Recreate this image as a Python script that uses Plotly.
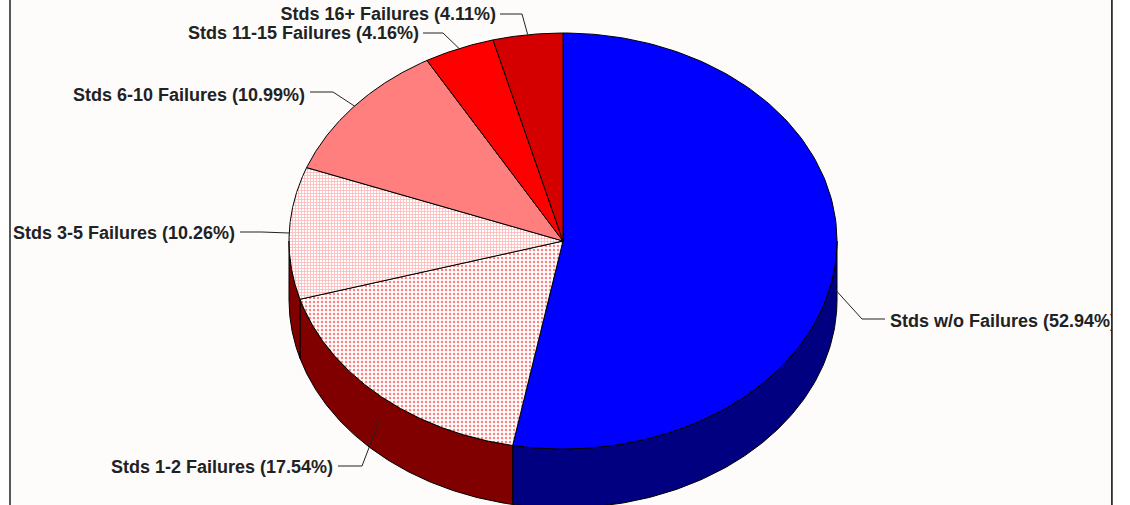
import numpy as np
import plotly.graph_objects as go

# Data
names = ["Stds w/o Failures", "Stds 1-2 Failures", "Stds 3-5 Failures",
         "Stds 6-10 Failures", "Stds 11-15 Failures", "Stds 16+ Failures"]
shares = [52.94, 17.54, 10.26, 10.99, 4.16, 4.11]

# Styling
top_colors = ["#0000ff", "#ffffff", "#ffffff", "#ffffff", "#ff0000", "#d40000"]
side_colors = ["#000080", "#800000", "#800000", "#800000", "#800000", "#800000"]
patterns = [None,
            dict(shape=".", size=4, solidity=0.3, fgcolor="#ff0000", bgcolor="#ffffff"),
            dict(shape="+", size=3, solidity=0.5, fgcolor="#ff7878", bgcolor="#ffffff"),
            dict(shape=".", size=2, solidity=0.95, fgcolor="#ff0000", bgcolor="#ffffff"),
            None, None]

# Layout geometry in pixels
CX, CY, RX, RY, DEPTH = 563, 241, 274, 208, 59
label_anchor = [(890, 322, "middle right"), (333, 468, "middle left"), (235, 234, "middle left"),
                (305, 96, "middle left"), (419, 34, "middle left"), (496, 15, "middle left")]
leader_elbow = [(862, 319, 885), (362, 466, 338), (262, 232, 240),
                (333, 92, 310), (443, 33, 423), (522, 14, 500)]
leader_start_offset = [30, 58 * 0.45, 0, 0, 0, 0]


def px(deg, dy=0):
    a = np.radians(deg)
    return CX + RX * np.sin(a), CY - RY * np.cos(a) + dy


edges = np.concatenate([[0], np.cumsum(shares)]) * 360 / sum(shares)
fig = go.Figure()

# side walls (only the front half of the rim is visible)
for i in range(len(names)):
    a0, a1 = max(edges[i], 90), min(edges[i + 1], 270)
    if a1 <= a0:
        continue
    t = np.linspace(a0, a1, 120)
    xt, yt = px(t)
    xb, yb = px(t[::-1], DEPTH)
    fig.add_trace(go.Scatter(x=np.r_[xt, xb, xt[0]], y=np.r_[yt, yb, yt[0]], mode="lines",
                             fill="toself", fillcolor=side_colors[i],
                             line=dict(color="#000000", width=1), hoverinfo="skip"))

# top surface
for i in range(len(names)):
    t = np.linspace(edges[i], edges[i + 1], 160)
    xt, yt = px(t)
    tr = dict(x=np.r_[CX, xt, CX], y=np.r_[CY, yt, CY], mode="lines", fill="toself",
              fillcolor=top_colors[i], line=dict(color="#000000", width=1), hoverinfo="skip")
    if patterns[i]:
        tr["fillpattern"] = patterns[i]
    fig.add_trace(go.Scatter(**tr))

# leaders
for i in range(len(names)):
    mid = (edges[i] + edges[i + 1]) / 2
    sx, sy = px(mid, leader_start_offset[i])
    ex, ey, end = leader_elbow[i]
    fig.add_trace(go.Scatter(x=[sx, ex, end], y=[sy, ey, ey], mode="lines",
                             line=dict(color="#222222", width=1), hoverinfo="skip"))

# labels
fig.add_trace(go.Scatter(
    x=[a[0] for a in label_anchor], y=[a[1] for a in label_anchor],
    text=[f"{n} ({s:.2f}%)" for n, s in zip(names, shares)],
    textposition=[a[2] for a in label_anchor], mode="text",
    textfont=dict(family="Liberation Sans", size=18, weight="bold", color="#222222"),
    hoverinfo="skip"))

shapes = [
    dict(type="rect", layer="below", x0=10, x1=1112, y0=-5, y1=510, fillcolor="#fdfcfb",
         line=dict(color="#222222", width=1.5)),
    dict(type="rect", layer="above", x0=1112, x1=1130, y0=-5, y1=510, fillcolor="#ffffff",
         line=dict(width=0)),
    dict(type="line", layer="above", x0=1112, x1=1112, y0=-5, y1=510,
         line=dict(color="#222222", width=1.5)),
]

fig.update_layout(
    width=1130, height=505, autosize=False, showlegend=False,
    margin=dict(l=0, r=0, t=0, b=0), paper_bgcolor="#ffffff", plot_bgcolor="rgba(0,0,0,0)",
    xaxis=dict(range=[0, 1130], visible=False, fixedrange=True),
    yaxis=dict(range=[505, 0], visible=False, fixedrange=True),
    shapes=shapes,
)
fig.write_html("out.html", config=dict(displayModeBar=False),
               post_script="document.body.style.margin='0';document.documentElement.style.overflow='hidden';")
